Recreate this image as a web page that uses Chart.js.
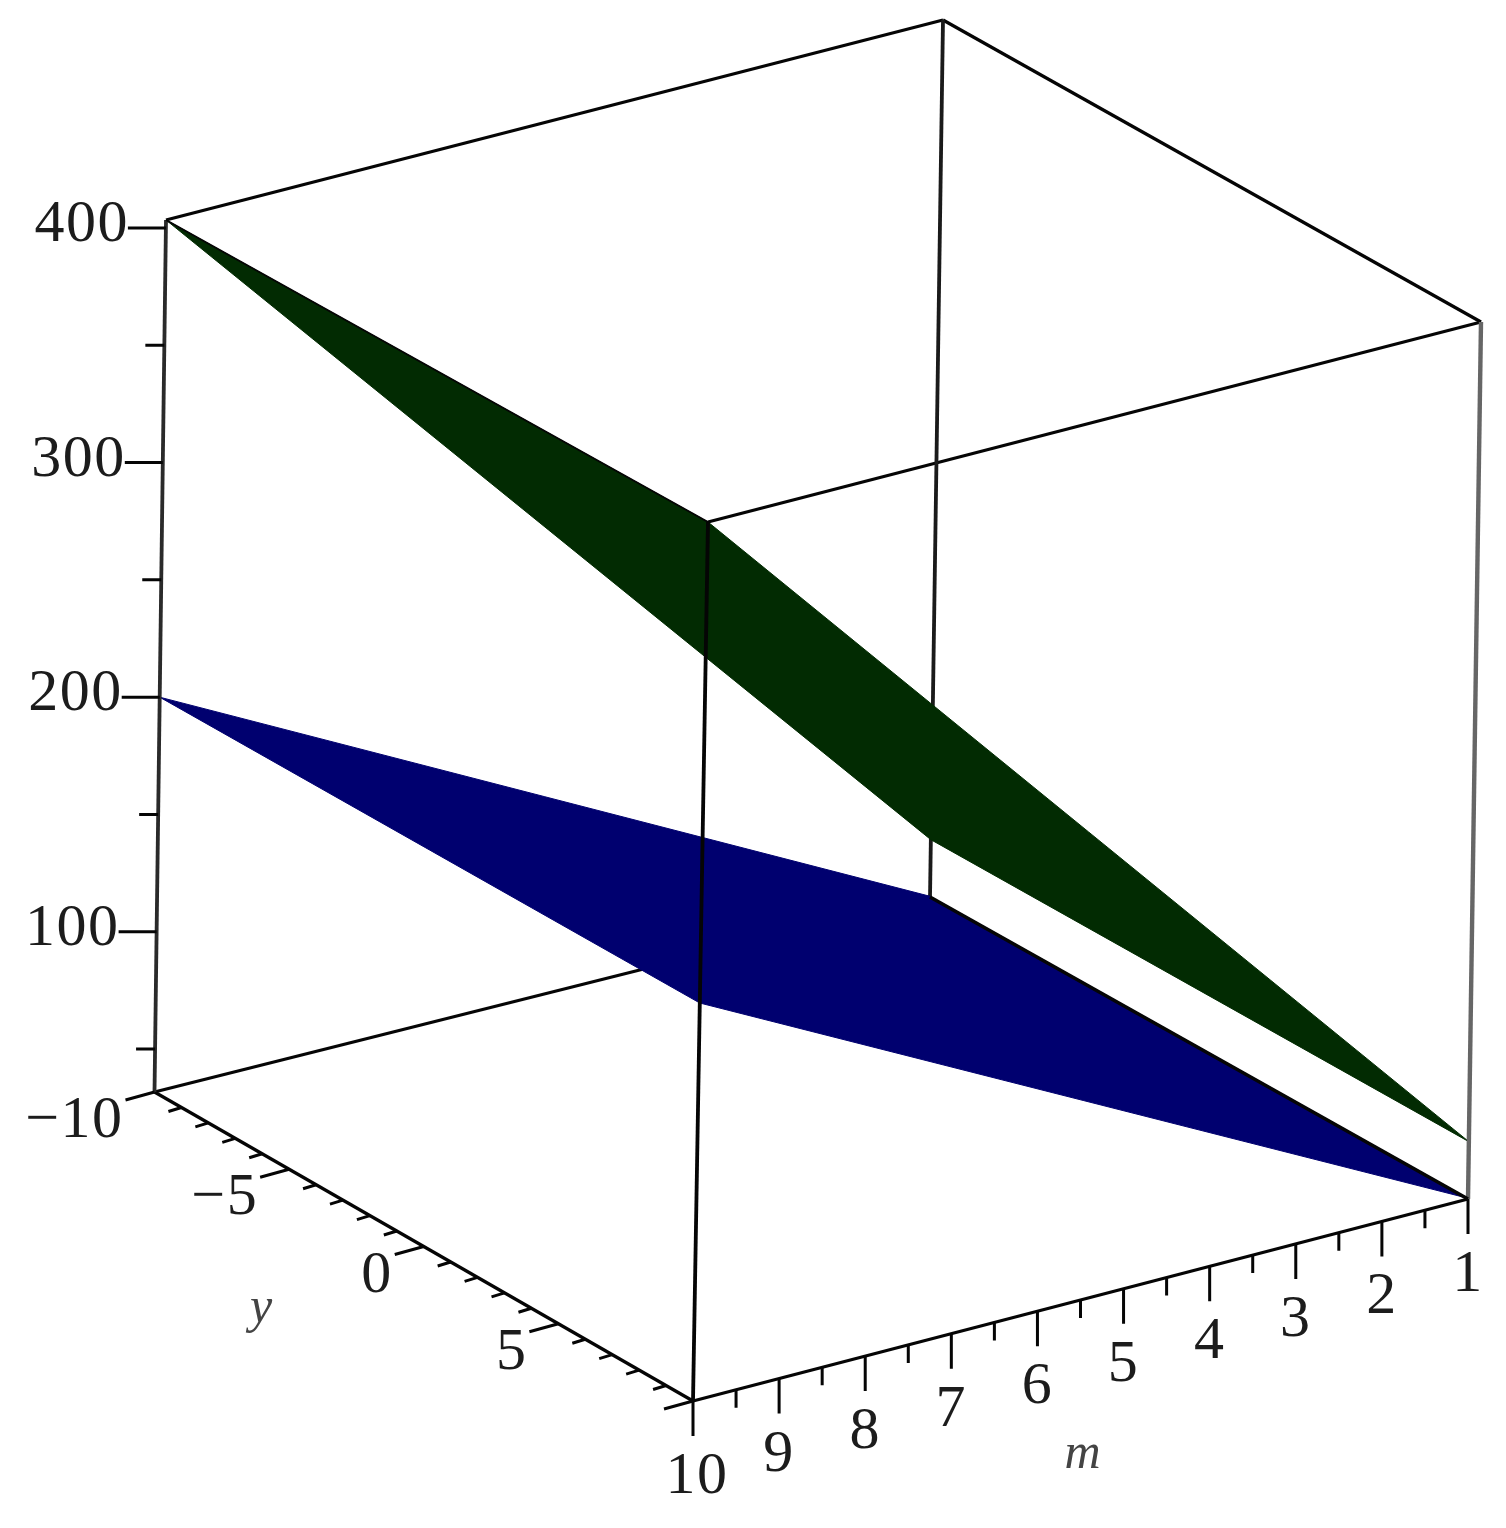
<!DOCTYPE html>
<html>
<head>
<meta charset="utf-8">
<title>Two planes over m and y</title>
<script src="https://cdn.jsdelivr.net/npm/chart.js@4"></script>
<style>
html,body{margin:0;padding:0;background:#fff}
canvas{display:block;filter:blur(0.6px)}
</style>
</head>
<body>
<canvas id="c" width="1506" height="1528"></canvas>
<script>
// ---- data ----
const mRange = [10, 1];
const yRange = [-10, 10];
const zRange = [31.7, 403.4];
const mMajor = [10, 9, 8, 7, 6, 5, 4, 3, 2, 1];
const mMinor = [9.5, 8.5, 7.5, 6.5, 5.5, 4.5, 3.5, 2.5, 1.5];
const yMajor = [-10, -5, 0, 5, 10];
const yMinor = [-9, -8, -7, -6, -4, -3, -2, -1, 1, 2, 3, 4, 6, 7, 8, 9];
const zMajor = [100, 200, 300, 400];
const zMinor = [50, 150, 250, 350];
const yLabelled = [-10, -5, 0, 5];
// surface height at m = 10 and at m = 1 (flat across y)
const surfaceM = [10, 1];
const blueZ = [200, 32];
const greenZ = [403.4, 56];

// ---- view: trilinear projection of the box, keyed [m-end][y-end][z-end] ----
const VIEW = {
  bottom: [[[154.5, 1092], [693, 1401]], [[930, 897], [1468, 1199]]],
  top:    [[[166, 220],  [708, 522]],  [[943, 20],  [1481, 322]]]
};
function project(m, y, z) {
  const u = (m - mRange[0]) / (mRange[1] - mRange[0]);
  const v = (y - yRange[0]) / (yRange[1] - yRange[0]);
  const w = (z - zRange[0]) / (zRange[1] - zRange[0]);
  const at = (f, k) =>
    (1 - u) * ((1 - v) * f[0][0][k] + v * f[0][1][k]) +
    u * ((1 - v) * f[1][0][k] + v * f[1][1][k]);
  return {
    x: (1 - w) * at(VIEW.bottom, 0) + w * at(VIEW.top, 0),
    y: (1 - w) * at(VIEW.bottom, 1) + w * at(VIEW.top, 1)
  };
}
const [m0, m1] = mRange, [y0, y1] = yRange, [z0, z1] = zRange;

const INK = '#050505';
function seg(points, order, width, color) {
  return {
    data: points, order: order, showLine: true, spanGaps: false, fill: false,
    borderColor: color || INK, borderWidth: width || 3.2, pointRadius: 0,
    borderCapStyle: 'butt', borderJoinStyle: 'miter', tension: 0, clip: false
  };
}
function edge(a, b, order, width, color) {
  return seg([project(...a), project(...b)], order, width, color);
}
function surface(zs, color) {
  const pts = [
    project(surfaceM[0], y0, zs[0]), project(surfaceM[0], y1, zs[0]),
    project(surfaceM[1], y1, zs[1]), project(surfaceM[1], y0, zs[1]),
    project(surfaceM[0], y0, zs[0])
  ];
  return {
    data: pts, order: 5, showLine: true, fill: 'shape', backgroundColor: color,
    borderColor: color, borderWidth: 1, pointRadius: 0, tension: 0, clip: false
  };
}
function ticks(list, base, dx, dy, order) {
  const pts = [];
  list.forEach(t => {
    const p = project(...base(t));
    pts.push({x: p.x, y: p.y}, {x: p.x + dx, y: p.y + dy}, {x: null, y: null});
  });
  return seg(pts, order, 3);
}
const onM = t => [t, y1, z0];
const onY = t => [m0, t, z0];
const onZ = t => [m0, y0, t];

const datasets = [
  // behind the surfaces
  edge([m0, y0, z0], [m1, y0, z0], 7),
  edge([m1, y0, z0], [m1, y0, z1], 7, 3.8, '#1a1a1a'),
  edge([m0, y0, z1], [m1, y0, z1], 7),
  edge([m1, y0, z1], [m1, y1, z1], 7),
  edge([m0, y1, z1], [m1, y1, z1], 7),
  // surfaces
  surface(blueZ, '#00006f'),
  surface(greenZ, '#022b02'),
  // in front of the surfaces
  edge([m1, y0, z0], [m1, y1, z0], 3, 3.6),
  edge([m0, y0, z1], [m0, y1, z1], 3, 2, '#050505'),
  edge([m0, y1, z0], [m0, y1, z1], 3, 3.8, '#050505'),
  edge([m0, y0, z0], [m0, y0, z1], 3, 3.8, '#2a2a2a'),
  edge([m1, y1, z0], [m1, y1, z1], 3, 4.4, '#666'),
  edge([m0, y0, z0], [m0, y1, z0], 3),
  edge([m0, y1, z0], [m1, y1, z0], 3),
  // tick marks
  ticks(zMajor, onZ, -38, 0, 2),
  ticks(zMinor, onZ, -19, 0, 2),
  ticks(yMajor, onY, -29, 8, 2),
  ticks(yMinor, onY, -13, 4, 2),
  ticks(mMajor, onM, 0, 35, 2),
  ticks(mMinor, onM, 0, 18, 2)
];

const FONT = '"Liberation Serif", "Times New Roman", serif';
const labelPlugin = {
  id: 'boxLabels',
  afterDraw(chart) {
    const {ctx, scales} = chart;
    const px = p => ({x: scales.x.getPixelForValue(p.x), y: scales.y.getPixelForValue(p.y)});
    const fmt = n => (n < 0 ? '\u2212' + Math.abs(n) : String(n));
    ctx.save();
    ctx.fillStyle = '#1c1c1c';
    ctx.textBaseline = 'alphabetic';
    ctx.font = '60px ' + FONT;
    ctx.letterSpacing = '1.5px';
    ctx.textAlign = 'right';
    zMajor.forEach(z => {
      const p = px(project(m0, y0, z));
      ctx.fillText(fmt(z), p.x - 37, p.y + 13);
    });
    yLabelled.forEach(y => {
      const p = px(project(m0, y, z0));
      ctx.fillText(fmt(y), p.x - 31, p.y + 45);
    });
    ctx.textAlign = 'center';
    mMajor.forEach(m => {
      const p = px(project(m, y1, z0));
      ctx.fillText(fmt(m), p.x + (m === 10 ? 4 : 0), p.y + 92);
    });
    ctx.letterSpacing = '0px';
    ctx.font = 'italic 50px ' + FONT;
    ctx.fillStyle = '#444';
    const mp = px(project(5.5, y1, z0));
    ctx.fillText('m', mp.x + 2, mp.y + 168);
    const yp = px(project(m0, -4, z0));
    ctx.fillText('y', yp.x - 55, yp.y + 137);
    ctx.restore();
  }
};

new Chart(document.getElementById('c'), {
  type: 'scatter',
  data: {datasets},
  options: {
    responsive: false,
    animation: false,
    events: [],
    layout: {padding: 0},
    plugins: {legend: {display: false}, tooltip: {enabled: false}, title: {display: false}},
    scales: {
      x: {type: 'linear', min: 0, max: 1506, display: false},
      y: {type: 'linear', min: 0, max: 1528, reverse: true, display: false}
    }
  },
  plugins: [labelPlugin]
});
</script>
</body>
</html>
